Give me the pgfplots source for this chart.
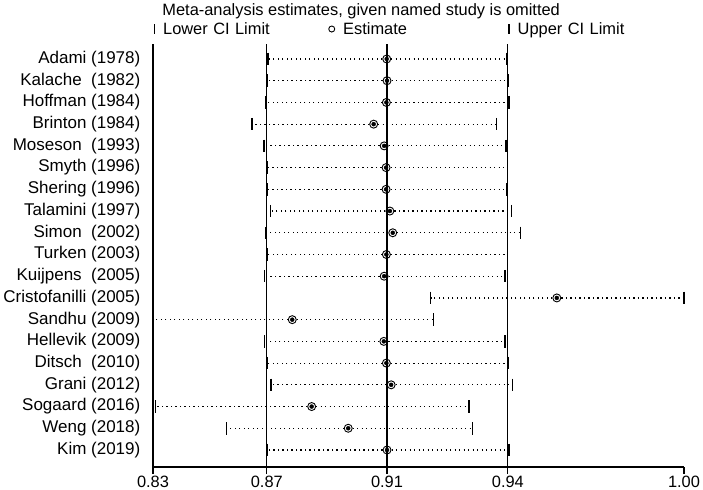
\documentclass[border=0pt]{standalone}
\usepackage{fontspec}
\setmainfont{Liberation Sans}
\usepackage{pgfplots}
\pgfplotsset{compat=1.18}
\usepackage{pgfplotstable}

% y: row position (Adami at top), est: estimate, lo/hi: CI limits
\pgfplotstableread{
y  est     lo      hi
19 0.9065  0.8692  0.9442
18 0.9066  0.8689  0.9447
17 0.9064  0.8684  0.9449
16 0.9024  0.8641  0.9411
15 0.9057  0.8679  0.9440
14 0.9063  0.8689  0.9445
13 0.9063  0.8689  0.9443
12 0.9075  0.8699  0.9458
11 0.9084  0.8685  0.9486
10 0.9064  0.8689  0.9445
9  0.9057  0.8681  0.9437
8  0.9600  0.9203  1.0000
7  0.8768  0.8330  0.9212
6  0.9056  0.8681  0.9437
5  0.9064  0.8689  0.9447
4  0.9079  0.8701  0.9461
3  0.8829  0.8337  0.9324
2  0.8944  0.8561  0.9334
1  0.9066  0.8689  0.9449
}\studies

\begin{document}
\fontsize{16.4bp}{19.7bp}\selectfont
\begin{tikzpicture}
\begin{axis}[
  name=ax,
  scale only axis,
  width=531bp, height=423bp,
  xmin=0.833, xmax=1.0,
  ymin=0.217, ymax=19.69,
  clip=false,
  axis x line*=bottom,
  axis y line*=left,
  axis line style={-, line width=1.2bp, black},
  every outer x axis line/.append style={-},
  every outer y axis line/.append style={-},
  /pgf/number format/assume math mode=true,
  xtick={0.833,0.8688,0.9066,0.9446,1.0},
  xticklabels={0.83,0.87,0.91,0.94,1.00},
  xticklabel style={yshift=3.5bp, text depth=0pt},
  ytick={1,...,19},
  yticklabels={Kim (2019),Weng (2018),Sogaard (2016),Grani (2012),Ditsch\ \ (2010),Hellevik (2009),Sandhu (2009),Cristofanilli (2005),Kuijpens\ \ (2005),Turken (2003),Simon\ \ (2002),Talamini (1997),Shering (1996),Smyth (1996),Moseson\ \ (1993),Brinton (1984),Hoffman (1984),Kalache\ \ (1982),Adami (1978)},
  yticklabel style={font=\fontsize{17bp}{20bp}\selectfont},
  tick align=outside,
  major tick length=7bp,
  xtick style={black, line width=1.2bp},
  ytick style={draw=none},
  title={Meta-analysis estimates, given named study is omitted},
  title style={at={(0.392,1)}, anchor=base, yshift=23bp, inner sep=0pt},
  legend columns=3,
  legend cell align=left,
  legend image code/.code={\draw[#1] plot coordinates {(0bp,0bp)};},
  legend style={
    at={(0,1)}, anchor=south west, xshift=1.25bp, yshift=9.1bp,
    draw=none, fill=none, inner sep=0pt, outer sep=0pt,
    nodes={inner sep=0pt, text width=150bp, align=left, text height=11.74bp, text depth=0pt},
    /tikz/every odd column/.append style={column sep=8.5bp},
    /tikz/every even column/.append style={column sep=15.6bp},
  },
]
% overall estimate and CI lines
\addplot[forget plot, black, line width=1.2bp] coordinates {(0.8688,0.217) (0.8688,19.69)};
\addplot[forget plot, black, line width=1.2bp] coordinates {(0.9066,0.217) (0.9066,19.69)};
\addplot[forget plot, black, line width=1.2bp] coordinates {(0.9446,0.217) (0.9446,19.69)};

% dotted CI spans
\addplot[forget plot, only marks, mark=none,
  error bars/.cd, x dir=both, x explicit, error mark=none,
  error bar style={black, line width=1.2bp, dash pattern=on 1.2bp off 3.3bp}]
  table[x=est, y=y, x error plus expr=\thisrow{hi}-\thisrow{est}, x error minus expr=\thisrow{est}-\thisrow{lo}] {\studies};

% CI limit bars
\addplot[forget plot, only marks, mark=|, mark size=6.25bp, mark options={line width=1.4bp, black}] table[x=lo, y=y] {\studies};
\addplot[forget plot, only marks, mark=|, mark size=6.25bp, mark options={line width=1.4bp, black}] table[x=hi, y=y] {\studies};
% estimates
\addplot[forget plot, only marks, mark=o, mark size=4bp, mark options={line width=0.9bp, black, fill=none}] table[x=est, y=y] {\studies};

\addlegendimage{mark=|, mark size=5bp, mark options={line width=1.3bp, black}}
\addlegendentry{Lower CI Limit}
\addlegendimage{mark=o, mark size=3bp, mark options={line width=0.9bp, black}}
\addlegendentry{Estimate}
\addlegendimage{mark=|, mark size=5bp, mark options={line width=1.3bp, black}}
\addlegendentry{Upper CI Limit}
\end{axis}
\pgfresetboundingbox
\path (ax.south west) ++(-153bp,-23bp) rectangle ++(703bp,490bp);
\end{tikzpicture}
\end{document}
